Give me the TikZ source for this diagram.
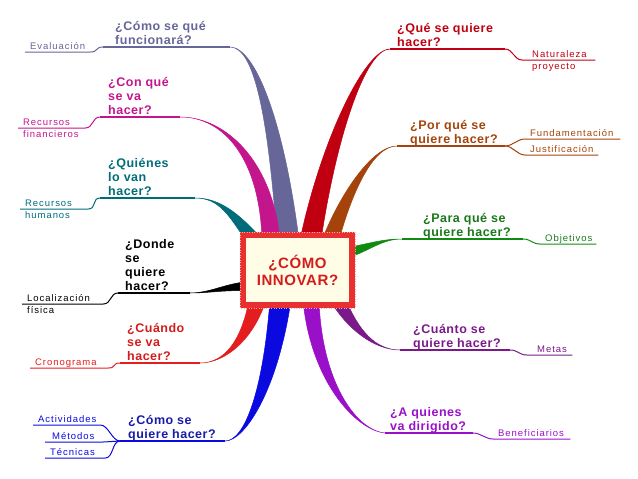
\documentclass[tikz,border=0pt]{standalone}
\usepackage{fontspec}
\setmainfont{Liberation Sans}
\newfontfamily\qfont[LetterSpace=4]{Liberation Sans}
\newfontfamily\lfont[LetterSpace=10]{Liberation Sans}
\usetikzlibrary{calc,positioning}
\definecolor{slate}{RGB}{102,102,153}
\definecolor{magen}{RGB}{196,22,140}
\definecolor{tealb}{RGB}{0,108,122}
\definecolor{redb}{RGB}{228,30,30}
\definecolor{blueb}{RGB}{10,10,224}
\definecolor{bluet}{RGB}{25,25,170}
\definecolor{darkr}{RGB}{192,0,16}
\definecolor{brownb}{RGB}{164,68,12}
\definecolor{greenb}{RGB}{16,138,16}
\definecolor{greent}{RGB}{25,120,25}
\definecolor{purpb}{RGB}{122,26,138}
\definecolor{violb}{RGB}{154,16,200}
\definecolor{boxred}{RGB}{232,48,48}
\definecolor{boxdot}{RGB}{250,170,160}
\definecolor{boxfill}{RGB}{255,253,230}
\definecolor{boxtext}{RGB}{212,28,28}
\begin{document}
\begin{tikzpicture}
      [x=1pt,y=-1pt,
       qtext/.style={anchor=south west,align=left,inner xsep=0pt,inner ysep=2.5pt,text depth=0pt,font=\qfont\bfseries\fontsize{12.5}{14}\selectfont},
       lab/.style={anchor=south west,align=left,inner xsep=5pt,inner ysep=2.5pt,text depth=0pt,font=\lfont\fontsize{9.5}{12.5}\selectfont},
       uline/.style={line width=1.2pt},
       sline/.style={line width=1pt},
       box/.style={draw=boxred,line width=6pt,fill=boxfill,minimum width=109pt,minimum height=70pt,align=center,text=boxtext,font=\qfont\bfseries\fontsize{15}{17}\selectfont}]
      \useasboundingbox (0,0) rectangle (638,479);

      % questions, left side
      \node[qtext,slate]  (funciona) at (115,47)  {¿Cómo se qué\\funcionará?};
      \node[qtext,magen]  (conque)   at (108,117) {¿Con qué\\se va\\hacer?};
      \node[qtext,tealb]  (quienes)  at (108,198) {¿Quiénes\\lo van\\hacer?};
      \node[qtext,black]  (donde)    at (125,293) {¿Donde\\se\\quiere\\hacer?};
      \node[qtext,boxtext] (cuando)  at (127,363) {¿Cuándo\\se va\\hacer?};
      \node[qtext,bluet]  (como)     at (128,441) {¿Cómo se\\quiere hacer?};
      % questions, right side
      \node[qtext,darkr]  (que)      at (397,49)  {¿Qué se quiere\\hacer?};
      \node[qtext,brownb] (porque)   at (410,146) {¿Por qué se\\quiere hacer?};
      \node[qtext,greent] (paraque)  at (423,239) {¿Para qué se\\quiere hacer?};
      \node[qtext,purpb]  (cuanto)   at (413,350) {¿Cuánto se\\quiere hacer?};
      \node[qtext,violb]  (aquienes) at (390,433) {¿A quienes\\va dirigido?};

      % underline ends
      \coordinate (funcionaA) at (103,47);  \coordinate (funcionaB) at (230,47);
      \coordinate (conqueA)   at (100,117); \coordinate (conqueB)   at (180,117);
      \coordinate (quienesA)  at (100,198); \coordinate (quienesB)  at (195,198);
      \coordinate (dondeA)    at (118,293); \coordinate (dondeB)    at (190,293);
      \coordinate (cuandoA)   at (120,363); \coordinate (cuandoB)   at (200,363);
      \coordinate (comoA)     at (120,441); \coordinate (comoB)     at (225,441);
      \coordinate (queA)      at (390,49);  \coordinate (queB)      at (505,49);
      \coordinate (porqueA)   at (397,146); \coordinate (porqueB)   at (505,146);
      \coordinate (paraqueA)  at (402,239); \coordinate (paraqueB)  at (523,239);
      \coordinate (cuantoA)   at (400,350); \coordinate (cuantoB)   at (510,350);
      \coordinate (aquienesA) at (385,433); \coordinate (aquienesB) at (473,433);

      % labels
      \node[lab,slate,text width=55pt]  (eval)   at (25,52)   {Evaluación};
      \node[lab,magen,text width=57pt]  (finan)  at (18,128)  {Recursos\\financieros};
      \node[lab,tealb,text width=58pt]  (human)  at (20,209)  {Recursos\\humanos};
      \node[lab,black,text width=71pt]  (local)  at (22,304)  {Localización\\física};
      \node[lab,redb,text width=68pt]   (crono)  at (30,368)  {Cronograma};
      \node[lab,blueb,text width=57pt]  (activ)  at (33,425)  {Actividades};
      \node[lab,blueb,text width=48pt]  (metod)  at (45,442)  {\hspace*{2pt}Métodos};
      \node[lab,blueb,text width=50pt]  (tecn)   at (45,458)  {Técnicas};
      \node[lab,darkr,text width=63pt]  (natur)  at (522,60)  {\hspace*{5pt}Naturaleza\\\hspace*{5pt}proyecto};
      \node[lab,brownb,text width=85pt] (fund)   at (525,139) {Fundamentación};
      \node[lab,brownb,text width=63pt] (justif) at (525,155) {Justificación};
      \node[lab,greent,text width=46pt] (objet)  at (540,244) {Objetivos};
      \node[lab,purpb,text width=35pt]  (metas)  at (527,355) {\hspace*{5pt}Metas};
      \node[lab,violb,text width=67pt]  (benef)  at (493,439) {Beneficiarios};

      % thick branches
      \foreach \c/\p/\r/\d/\e/\t in {slate/{277,240}/{299,240}/{-12,-120}/funcionaB/{25,0},
          magen/{262,240}/{280,240}/{-5,-80}/conqueB/{45,0},
          tealb/{247,242}/{261,238}/{-20,-25}/quienesB/{25,0},
          black/{246,282}/{246,291}/{-20,0}/dondeB/{20,0},
          redb/{249,300}/{266,300}/{-10,40}/cuandoB/{25,0},
          blueb/{270,300}/{291,300}/{-10,90}/comoB/{20,0},
          darkr/{300,240}/{321,240}/{18,-100}/queA/{-25,0},
          brownb/{322,240}/{339,240}/{15,-45}/porqueA/{-25,0},
          greenb/{350,247}/{350,257}/{20,-5}/paraqueA/{-20,0},
          purpb/{330,300}/{346,300}/{15,30}/cuantoA/{-25,0},
          violb/{303,300}/{319,300}/{5,80}/aquienesA/{-30,-3}}
        \filldraw[\c,line width=.5pt] (\p) .. controls ($(\p)!.15!(\r)+(\d)$) and +(\t) .. (\e)
          .. controls +(\t) and ($(\r)!.15!(\p)+(\d)$) .. (\r) -- cycle;

      \foreach \a/\b/\c in {funcionaA/funcionaB/slate, conqueA/conqueB/magen, quienesA/quienesB/tealb,
          dondeA/dondeB/black, cuandoA/cuandoB/redb, comoA/comoB/blueb, queA/queB/darkr,
          porqueA/porqueB/brownb, paraqueA/paraqueB/greenb, cuantoA/cuantoB/purpb, aquienesA/aquienesB/violb}
        \draw[uline,\c] (\a) -- (\b);

      \foreach \q/\s/\c in {funcionaA/eval/slate, conqueA/finan/magen, quienesA/human/tealb, dondeA/local/black,
          cuandoA/crono/redb, comoA/activ/blueb, comoA/metod/blueb, comoA/tecn/blueb}
        \draw[sline,\c] (\q) .. controls +(-8,0) and +(8,0) .. (\s.south east) -- (\s.south west);
      \foreach \q/\s/\c in {queB/natur/darkr, porqueB/fund/brownb, porqueB/justif/brownb,
          paraqueB/objet/greenb, cuantoB/metas/purpb, aquienesB/benef/violb}
        \draw[sline,\c] (\q) .. controls +(8,0) and +(-8,0) .. (\s.south west) -- (\s.south east);

      % centre
      \node[box] (c) at (297.5,270) {¿CÓMO\\INNOVAR?};
      \draw[boxdot,line width=1pt,dash pattern=on 1pt off 1.5pt] (c.south west) rectangle (c.north east);

    \end{tikzpicture}
\end{document}
